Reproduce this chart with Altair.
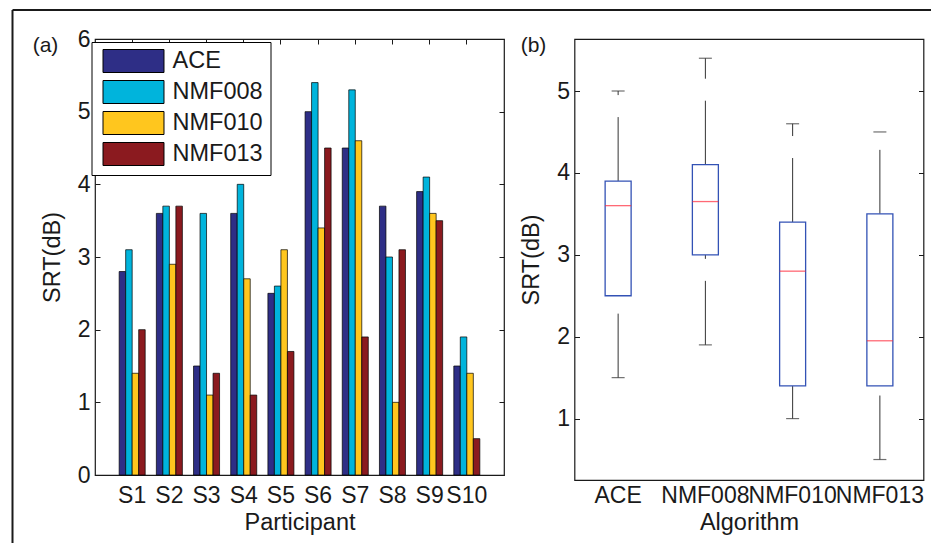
import altair as alt
import numpy as np
import pandas as pd

# ---------------- data ----------------
participants = ["S1", "S2", "S3", "S4", "S5", "S6", "S7", "S8", "S9", "S10"]
algorithms = ["ACE", "NMF008", "NMF010", "NMF013"]
ace = [2.8, 3.6, 1.5, 3.6, 2.5, 5.0, 4.5, 3.7, 3.9, 1.5]
nmf008 = [3.1, 3.7, 3.6, 4.0, 2.6, 5.4, 5.3, 3.0, 4.1, 1.9]
nmf010 = [1.4, 2.9, 1.1, 2.7, 3.1, 3.4, 4.6, 1.0, 3.6, 1.4]
nmf013 = [2.0, 3.7, 1.4, 1.1, 1.7, 4.5, 1.9, 3.1, 3.5, 0.5]
bar_colors = ["#2e2e86", "#00b4dc", "#ffc61e", "#8b1a1f"]
y_ticks_a = [0, 1, 2, 3, 4, 5, 6]
y_ticks_b = [1, 2, 3, 4, 5]

series = dict(zip(algorithms, [ace, nmf008, nmf010, nmf013]))
bars = pd.DataFrame(
    [{"participant": p, "algorithm": a, "srt": v}
     for a in algorithms for p, v in zip(participants, series[a])]
)

# box-plot statistics (MATLAB-style quartiles) computed from the same values
rows = []
for a in algorithms:
    vals = np.array(series[a])
    q1, q3 = np.percentile(vals, [25, 75], method="hazen")
    iqr = q3 - q1
    rows.append({
        "algorithm": a,
        "q1": q1, "q3": q3, "med": float(np.median(vals)),
        "lo": float(vals[vals >= q1 - 1.5 * iqr].min()),
        "hi": float(vals[vals <= q3 + 1.5 * iqr].max()),
    })
stats = pd.DataFrame(rows)

FONT = "Liberation Sans"
INK = "#1a1a1a"
one = pd.DataFrame({"k": [0]})

# ---------------- panel (a) ----------------
WA, HA = 409, 436
x_a = alt.X(
    "participant:N", sort=participants,
    scale=alt.Scale(paddingInner=0.3, paddingOuter=0.65),
    axis=alt.Axis(title="Participant", orient="bottom", offset=-5, tickSize=5,
                  domain=False, labelAngle=0, labelPadding=9, titlePadding=3),
)
y_a = alt.Y(
    "srt:Q", scale=alt.Scale(domain=[0, 6], nice=False),
    axis=alt.Axis(title="SRT(dB)", values=y_ticks_a, offset=-5, tickSize=5,
                  domain=False, labelPadding=5, titlePadding=13),
)
bar_layer = alt.Chart(bars).mark_bar(stroke="black", strokeWidth=0.7).encode(
    x=x_a,
    xOffset=alt.XOffset("algorithm:N", sort=algorithms,
                        scale=alt.Scale(paddingInner=0, paddingOuter=0)),
    y=y_a,
    color=alt.Color(
        "algorithm:N", sort=algorithms,
        scale=alt.Scale(domain=algorithms, range=bar_colors),
        legend=alt.Legend(
            title=None, orient="none", legendX=-3.5, legendY=3,
            symbolType="M-0.652,-1L4.652,-1L4.652,1L-0.652,1Z", symbolSize=529,
            symbolStrokeColor="black", symbolStrokeWidth=1, symbolOpacity=1,
            labelFontSize=23.5, labelOffset=50, rowPadding=3, padding=7,
            fillColor="white", strokeColor="black", labelFont=FONT, labelColor=INK,
        ),
    ),
)
mirror_a = alt.Chart(bars).mark_point(opacity=0).encode(
    x=alt.X("participant:N", sort=participants,
            axis=alt.Axis(orient="top", labels=False, title=None, offset=-5,
                          tickSize=5, domain=False)),
    y=alt.Y("srt:Q",
            axis=alt.Axis(orient="right", labels=False, title=None, values=y_ticks_a,
                          offset=-5, tickSize=5, domain=False)),
)
frame_top = alt.Chart(one).mark_rule(color=INK, strokeWidth=2).encode(
    x=alt.value(-82.5), x2=alt.value(836), y=alt.value(-29))
frame_left = alt.Chart(one).mark_rule(color=INK, strokeWidth=2).encode(
    x=alt.value(-82.5), y=alt.value(-29), y2=alt.value(504))
tag_a = alt.Chart(one).mark_text(fontSize=21, font=FONT, color=INK).encode(
    x=alt.value(-49.5), y=alt.value(7), text=alt.value("(a)"))

panel_a = (
    alt.layer(bar_layer, mirror_a, frame_top, frame_left, tag_a)
    .resolve_axis(x="independent", y="independent")
    .properties(width=WA, height=HA)
)

# ---------------- panel (b) ----------------
WB, HB = 349, 441
x_b = alt.X(
    "algorithm:N", sort=algorithms,
    scale=alt.Scale(paddingInner=0, paddingOuter=0),
    axis=alt.Axis(title="Algorithm", tickSize=0, domain=False, labelAngle=0,
                  labelPadding=4, titlePadding=3),
)
ax_b = alt.Axis(title="SRT(dB)", values=y_ticks_b, offset=-5, tickSize=5,
                domain=False, labelPadding=5, titlePadding=13)
sc_b = alt.Scale(domain=[0.25, 5.635], nice=False, zero=False)


def yb(field):
    return alt.Y(field, type="quantitative", scale=sc_b, axis=ax_b)


base_b = alt.Chart(stats)
whisk_up = base_b.mark_rule(color="#333333", strokeWidth=1, strokeDash=[64, 22]).encode(
    x=x_b, y=yb("q3"), y2="hi")
whisk_lo = base_b.mark_rule(color="#333333", strokeWidth=1, strokeDash=[64, 22]).encode(
    x=x_b, y=yb("lo"), y2="q1")
boxes = base_b.mark_bar(size=26, fill="white", stroke="#3352b5", strokeWidth=1.3).encode(
    x=x_b, y=yb("q1"), y2="q3")
medians = base_b.mark_tick(size=26, thickness=1.3, color="#ff2a3a").encode(
    x=x_b, y=yb("med"))
cap_hi = base_b.mark_tick(size=13, thickness=1.2, color="#333333").encode(
    x=x_b, y=yb("hi"))
cap_lo = base_b.mark_tick(size=13, thickness=1.2, color="#333333").encode(
    x=x_b, y=yb("lo"))
box_group = alt.layer(whisk_up, whisk_lo, boxes, medians, cap_hi, cap_lo)

mirror_b = base_b.mark_point(opacity=0).encode(
    y=alt.Y("lo:Q", scale=sc_b,
            axis=alt.Axis(orient="right", labels=False, title=None, values=y_ticks_b,
                          offset=-5, tickSize=5, domain=False)),
)
tag_b = alt.Chart(one).mark_text(fontSize=21, font=FONT, color=INK).encode(
    x=alt.value(-41), y=alt.value(7), text=alt.value("(b)"))

panel_b = (
    alt.layer(box_group, mirror_b, tag_b)
    .resolve_axis(y="independent")
    .properties(width=WB, height=HB)
)

chart = (
    alt.hconcat(panel_a, panel_b, spacing=70.5, bounds="flush")
    .properties(padding={"left": 2, "top": 0, "right": 0, "bottom": 0})
    .configure_view(stroke=INK, strokeWidth=1.2)
    .configure_axis(
        labelFont=FONT, titleFont=FONT, labelFontSize=23, titleFontSize=23.5,
        labelColor=INK, titleColor=INK, titleFontWeight="normal",
        tickColor=INK, tickWidth=1, grid=False,
    )
    .configure_legend(labelFont=FONT)
)

chart.save("out.html", embed_options={"renderer": "svg", "actions": False})
